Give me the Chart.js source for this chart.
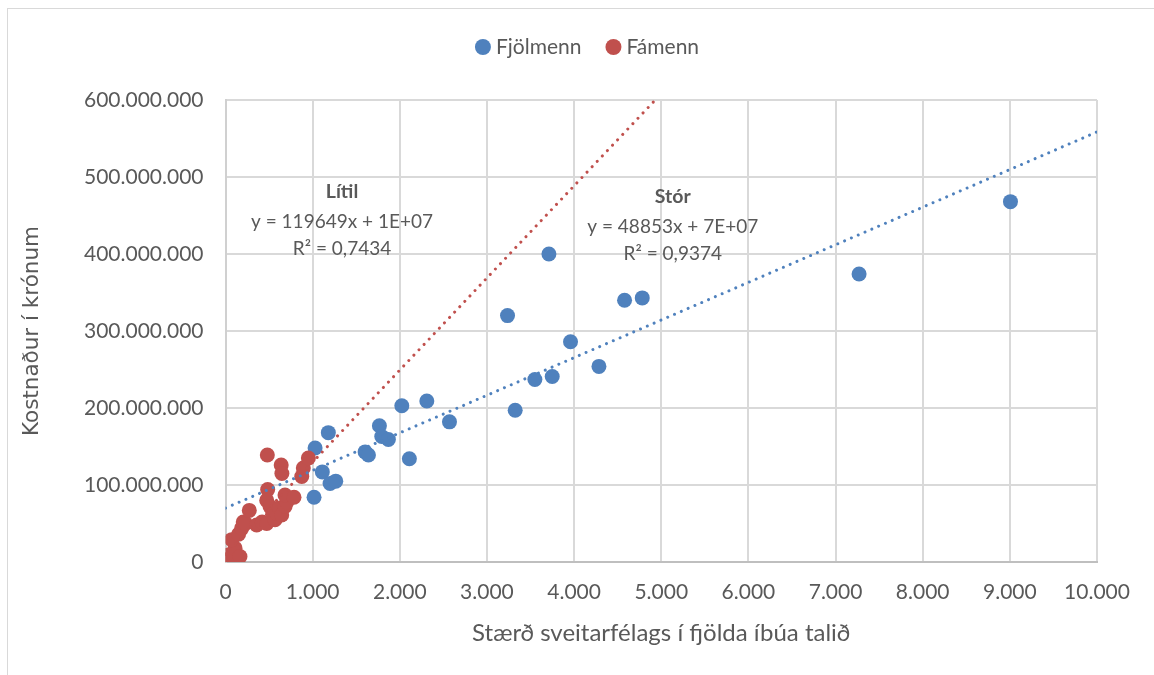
<!DOCTYPE html>
<html>
<head>
<meta charset="utf-8">
<script src="https://cdn.jsdelivr.net/npm/chart.js@4.4.0/dist/chart.umd.min.js"></script>
<style>
  body { margin: 0; background: #fff; }
  .wrap { position: relative; width: 1154px; height: 675px; overflow: hidden; }
  .frame { position: absolute; left: 7px; top: 8px; width: 1200px; height: 700px; border: 1px solid #d9d9d9; }
  canvas { position: absolute; left: 0; top: 0; }
</style>
</head>
<body>
<div class="wrap">
  <div class="frame"></div>
  <canvas id="chart" width="1154" height="675"></canvas>
</div>
<script>
// Fjölmenn (stór sveitarfélög)
const fjolmennX = [1016, 1028, 1111, 1180, 1200, 1265, 1602, 1640, 1766, 1793, 1869, 2023, 2110, 2310, 2570,
  3236, 3324, 3550, 3711, 3749, 3959, 4285, 4579, 4782, 7270, 9007]
const fjolmennY = [84e6, 148e6, 117e6, 168e6, 102e6, 105e6, 143e6, 139e6, 177e6, 163e6, 159e6, 203e6, 134e6, 209e6, 182e6,
  320e6, 197e6, 237e6, 400e6, 241e6, 286e6, 254e6, 340e6, 343e6, 374e6, 468e6]

// Fámenn (lítil sveitarfélög)
const famennX = [32, 52, 109, 71, 166, 150, 186, 204, 230, 273, 358, 420, 473, 480, 484, 473, 511, 540, 568,
  590, 620, 639, 647, 645, 683, 703, 683, 786, 875, 893, 951]
const famennY = [9e6, 5e6, 18e6, 29e6, 7e6, 36e6, 44e6, 52e6, 50e6, 67e6, 48e6, 52e6, 50e6, 139e6, 94e6, 80e6, 72e6, 62e6, 55e6,
  63e6, 70e6, 126e6, 115e6, 61e6, 72e6, 78e6, 87e6, 84e6, 111e6, 122e6, 135e6]

// trendlínur eins og Excel gefur þær upp: [hallatala, skurðpunktur]
const fjolmennTrend = [48853, 7e7]
const famennTrend = [119649, 1e7]

const xTicks = { min: 0, max: 10000, step: 1000 }
const yTicks = { min: 0, max: 600000000, step: 100000000 }

const notes = [
  { x: 1337, y: 481e6, lines: ['Lítil', 'y = 119649x + 1E+07', 'R² = 0,7434'] },
  { x: 5132, y: 474e6, lines: ['Stór', 'y = 48853x + 7E+07', 'R² = 0,9374'] }
]

const blue = '#4f81bd'
const red = '#c0504d'
const textColor = '#595959'
const font = 'Lato'

const dots = (xs, ys) => xs.map((x, i) => ({ x: x, y: ys[i] }))
const trend = ([a, b]) => [xTicks.min, xTicks.max].map(x => ({ x: x, y: a * x + b }))
const withDots = v => String(v).replace(/\B(?=(\d{3})+(?!\d))/g, '.')

const extras = {
  id: 'extras',
  afterDraw(chart) {
    const { ctx, scales: { x, y } } = chart
    ctx.save()
    ctx.fillStyle = textColor
    ctx.textAlign = 'center'
    ctx.textBaseline = 'middle'
    notes.forEach(n => {
      const px = x.getPixelForValue(n.x)
      const py = y.getPixelForValue(n.y)
      ctx.font = 'bold 19.5px ' + font
      ctx.fillText(n.lines[0], px, py)
      ctx.font = '19px ' + font
      ctx.fillText(n.lines[1], px, py + 30)
      ctx.fillText(n.lines[2], px, py + 57)
    })

    // legend
    const items = chart.data.datasets.filter(d => d.type !== 'line')
    ctx.font = '21px ' + font
    ctx.textAlign = 'left'
    const r = 8, gap = 5, between = 24
    const widths = items.map(d => 2 * r + gap + ctx.measureText(d.label).width)
    const total = widths.reduce((s, w) => s + w, 0) + between * (items.length - 1)
    let lx = 587 - total / 2
    const ly = 47
    items.forEach((d, i) => {
      ctx.beginPath()
      ctx.arc(lx + r, ly, r, 0, Math.PI * 2)
      ctx.fillStyle = d.backgroundColor
      ctx.fill()
      ctx.fillStyle = textColor
      ctx.fillText(d.label, lx + 2 * r + gap, ly)
      lx += widths[i] + between
    })
    ctx.restore()
  }
}

new Chart(document.getElementById('chart'), {
  type: 'scatter',
  data: {
    datasets: [
      {
        type: 'line', label: 'Trend Fámenn', data: trend(famennTrend), order: 0,
        borderColor: red, borderWidth: 3, borderDash: [0.01, 7.4], borderCapStyle: 'round',
        pointRadius: 0, fill: false
      },
      {
        type: 'line', label: 'Trend Fjölmenn', data: trend(fjolmennTrend), order: 0,
        borderColor: blue, borderWidth: 3, borderDash: [0.01, 7.4], borderCapStyle: 'round',
        pointRadius: 0, fill: false
      },
      {
        label: 'Fjölmenn', data: dots(fjolmennX, fjolmennY), order: 2,
        backgroundColor: blue, borderColor: blue, pointRadius: 7.5, borderWidth: 0
      },
      {
        label: 'Fámenn', data: dots(famennX, famennY), order: 1,
        backgroundColor: red, borderColor: red, pointRadius: 7.5, borderWidth: 0
      }
    ]
  },
  options: {
    responsive: false,
    animation: false,
    devicePixelRatio: 1,
    layout: { padding: { top: 100, right: 57, bottom: 0, left: 0 } },
    plugins: {
      legend: { display: false },
      tooltip: { enabled: false }
    },
    scales: {
      x: {
        type: 'linear',
        min: xTicks.min, max: xTicks.max,
        afterFit: s => { s.height = 113 },
        ticks: {
          stepSize: xTicks.step, padding: 18, color: textColor,
          font: { family: font, size: 21 },
          callback: v => withDots(v)
        },
        grid: { color: '#d9d9d9', lineWidth: 2, drawTicks: false },
        border: { color: '#bfbfbf', width: 2 },
        title: {
          display: true, text: 'Stærð sveitarfélags í fjölda íbúa talið', color: textColor,
          font: { family: font, size: 24 }, padding: { top: 0, bottom: 27 }
        }
      },
      y: {
        min: yTicks.min, max: yTicks.max,
        afterFit: s => { s.width = 225.5 },
        ticks: {
          stepSize: yTicks.step, padding: 22, color: textColor,
          font: { family: font, size: 21 },
          callback: v => withDots(v)
        },
        grid: { color: '#d9d9d9', lineWidth: 2, drawTicks: false },
        border: { color: '#d0d0d0', width: 2 },
        title: {
          display: true, text: 'Kostnaður í krónum', color: textColor,
          font: { family: 'DejaVu Sans', size: 21.5 }, padding: { top: 20, bottom: 0 }
        }
      }
    }
  },
  plugins: [extras]
})
</script>
</body>
</html>
